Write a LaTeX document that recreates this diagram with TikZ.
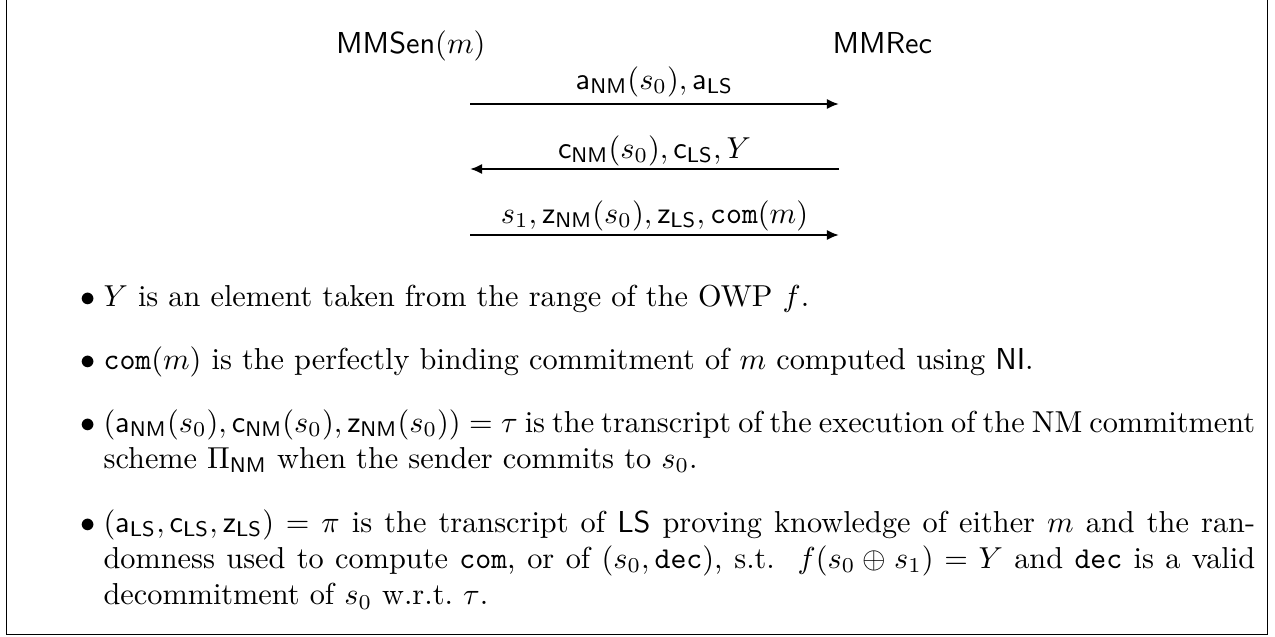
\documentclass[tikz,border=0pt]{standalone}
\usepackage{amsmath}
\usetikzlibrary{arrows.meta}

\begin{document}
\begin{tikzpicture}[x=0.33pt, y=-0.33pt,
  party/.style={inner sep=0pt},
  msg/.style={line width=0.9pt, -{Latex[length=4pt, width=3.4pt]}},
  msglabel/.style={anchor=base, inner sep=0pt},
  item/.style={anchor=base west, inner sep=0pt, text width=380pt, align=justify},
  dot/.style={anchor=base east, inner sep=0pt}]

\useasboundingbox (0,0) rectangle (1275,636);

% frame, open at the top
\draw [line width=0.4pt] (6.5,0) -- (6.5,634.5) -- (1267.5,634.5) -- (1267.5,0);

\node[party, anchor=base east] (sen) at (486,53) {$\mathsf{MMSen}(m)$};

\node[party, anchor=base west] (rec) at (832,53) {$\mathsf{MMRec}$};

\coordinate (s1) at (470,104); \coordinate (r1) at (839,104);
\coordinate (s2) at (470,169); \coordinate (r2) at (839,169);
\coordinate (s3) at (470,235); \coordinate (r3) at (839,235);

\draw [msg] (s1) -- (r1);
\node[msglabel] (m1) at (654.5,89) {$\mathsf{a}_{\mathsf{NM}}(s_0), \mathsf{a}_{\mathsf{LS}}$};
\draw [msg] (r2) -- (s2);
\node[msglabel] (m2) at (654.5,158) {$\mathsf{c}_{\mathsf{NM}}(s_0), \mathsf{c}_{\mathsf{LS}}, Y$};
\draw [msg] (s3) -- (r3);
\node[msglabel] (m3) at (654.5,223) {$s_1, \mathsf{z}_{\mathsf{NM}}(s_0), \mathsf{z}_{\mathsf{LS}}, \mathtt{com}(m)$};

% remarks below the protocol
\node[dot] (b1) at (96,306) {$\bullet$};
\node[item] (t1) at (103,306) {$Y$ is an element taken from the range of the OWP $f$.};

\node[dot] (b2) at (96,369) {$\bullet$};
\node[item] (t2) at (103,369) {$\mathtt{com}(m)$ is the perfectly binding commitment of $m$ computed using $\mathsf{NI}$.};

\node[dot] (b3) at (96,432) {$\bullet$};
\node[item] (t3) at (103,432) {$(\mathsf{a}_{\mathsf{NM}}(s_0), \mathsf{c}_{\mathsf{NM}}(s_0), \mathsf{z}_{\mathsf{NM}}(s_0)) = \tau$ is the transcript of the execution of the NM commitment scheme $\Pi_{\mathsf{NM}}$ when the sender commits to $s_0$.};

\node[dot] (b4) at (96,532) {$\bullet$};
\node[item] (t4) at (103,532) {$(\mathsf{a}_{\mathsf{LS}}, \mathsf{c}_{\mathsf{LS}}, \mathsf{z}_{\mathsf{LS}}) = \pi$ is the transcript of $\mathsf{LS}$ proving knowledge of either $m$ and the randomness used to compute $\mathtt{com}$, or of $(s_0, \mathtt{dec})$, s.t.\ \ $f(s_0 \oplus s_1) = Y$ and $\mathtt{dec}$ is a valid decommitment of $s_0$ w.r.t.~$\tau$.};
\end{tikzpicture}
\end{document}
